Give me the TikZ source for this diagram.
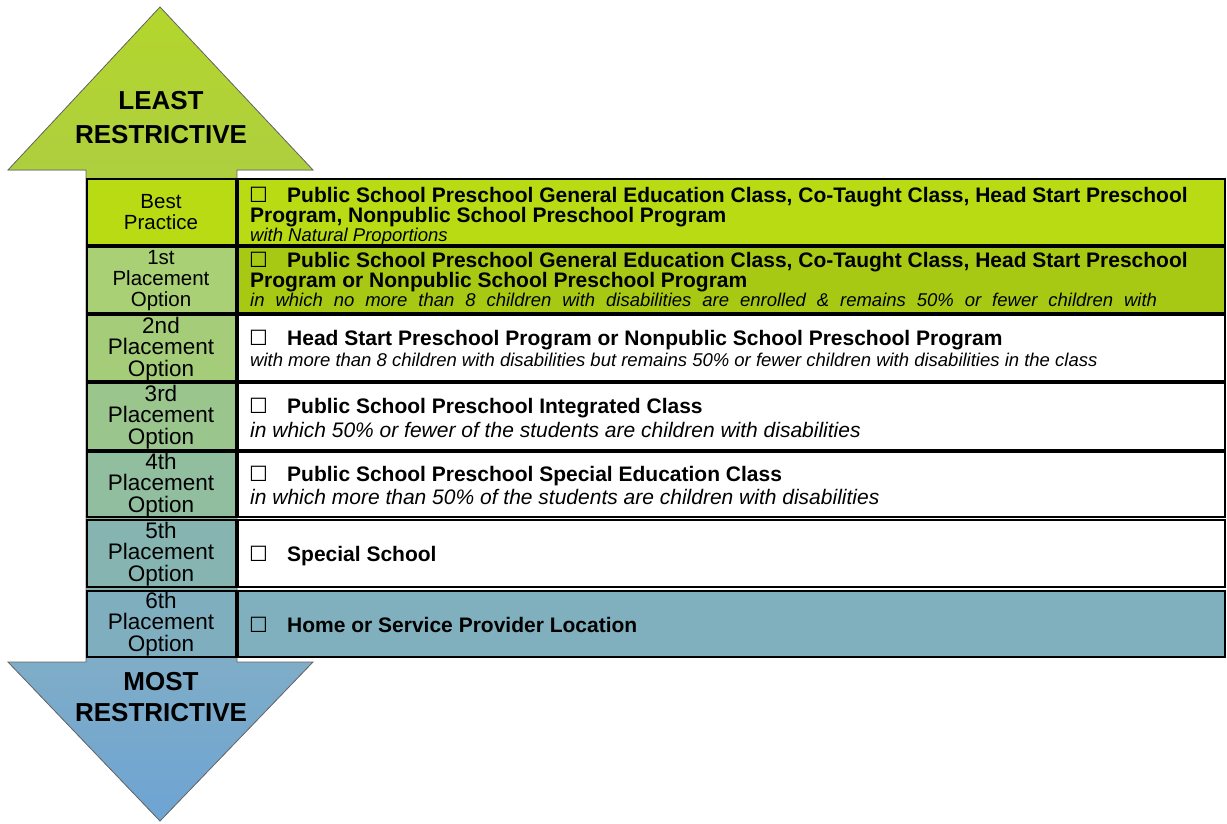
\documentclass[tikz,border=0pt]{standalone}
\usepackage{fontspec}
\setmainfont{Liberation Sans}
\newfontfamily\boxfont{DejaVu Sans}
\usepackage{tikz}
\definecolor{arrtop}{HTML}{B4D62C}
\definecolor{arrtopb}{HTML}{AECF3E}
\definecolor{arrbot}{HTML}{6EA4D3}
\definecolor{arrbott}{HTML}{7FADC8}
\definecolor{bestfill}{HTML}{B8DB13}
\definecolor{firstfill}{HTML}{A8C913}
\definecolor{sixfill}{HTML}{80B0BE}
\definecolor{lone}{HTML}{A9D075}
\definecolor{ltwo}{HTML}{A5CD79}
\definecolor{lthree}{HTML}{9AC58C}
\definecolor{lfour}{HTML}{90BE9E}
\definecolor{lfive}{HTML}{86B5B1}
\definecolor{lsix}{HTML}{7FAFBF}

\begin{document}
\begin{tikzpicture}[x=1pt,y=-1pt,
	cell/.style={draw=black, line width=2.2pt},
	big/.style={align=center, inner sep=0, font=\bfseries\fontsize{26}{34}\selectfont},
	rank/.style={align=center, inner sep=0, font=\fontsize{22.5}{21.5}\selectfont},
	tick/.style={anchor=base west, inner sep=0, font=\boxfont\fontsize{21}{21}\selectfont},
	head/.style={anchor=base west, inner sep=0, font=\bfseries\fontsize{21}{20}\selectfont},
	note/.style={anchor=base west, inner sep=0, font=\itshape\fontsize{18.5}{18}\selectfont}]
%		\draw [help lines] (0,0) grid (1227,823);
		\useasboundingbox (0,0) rectangle (1227,823);
		% the two way arrow
		\fill [top color=arrtop, bottom color=arrtopb] (160,7) -- (313,170) -- (8,170) -- cycle;
		\fill [top color=arrtopb, bottom color=arrbott] (86,169) rectangle (237,663);
		\fill [top color=arrbott, bottom color=arrbot] (8,662) -- (313,662) -- (160,821) -- cycle;
		\draw [draw=black!60, line width=0.8pt]
			(160,7) -- (313,170) -- (237,170) -- (237,662) -- (313,662) -- (160,821)
			-- (8,662) -- (86,662) -- (86,170) -- (8,170) -- cycle;
		\node [big] (least) at (161,118) {LEAST\\RESTRICTIVE};
		\node [big, font=\bfseries\fontsize{26}{31}\selectfont] (most) at (161,697) {MOST\\RESTRICTIVE};
		% left column
		\draw [cell, fill=bestfill] (87,179) rectangle (236,245);
		\draw [cell, fill=lone] (87,247) rectangle (236,313);
		\draw [cell, fill=ltwo] (87,315) rectangle (236,381);
		\draw [cell, fill=lthree] (87,383) rectangle (236,450);
		\draw [cell, fill=lfour] (87,452) rectangle (236,517);
		\draw [cell, fill=lfive] (87,520) rectangle (236,587);
		\draw [cell, fill=lsix] (87,591) rectangle (236,657);
		\node [rank, font=\fontsize{20.5}{21.5}\selectfont] (best) at (161,212) {Best\\Practice};
		\node [rank, font=\fontsize{20.5}{21}\selectfont] (first) at (161,281) {1st\\Placement\\Option};
		\node [rank] (second) at (161,349) {2nd\\Placement\\Option};
		\node [rank] (third) at (161,417) {3rd\\Placement\\Option};
		\node [rank] (fourth) at (161,485) {4th\\Placement\\Option};
		\node [rank] (fifth) at (161,554) {5th\\Placement\\Option};
		\node [rank] (sixth) at (161,624) {6th\\Placement\\Option};
		% right column
		\draw [cell, fill=bestfill] (238,179) rectangle (1225,245);
		\draw [cell, fill=firstfill] (238,247) rectangle (1225,313);
		\draw [cell, fill=white] (238,315) rectangle (1225,381);
		\draw [cell, fill=white] (238,383) rectangle (1225,450);
		\draw [cell, fill=white] (238,452) rectangle (1225,517);
		\draw [cell, fill=white] (238,520) rectangle (1225,587);
		\draw [cell, fill=sixfill] (238,591) rectangle (1225,657);
		% best practice
		\node [tick] (bestbox) at (249,202) {☐};
		\node [head] (besta) at (287,202) {Public School Preschool General Education Class, Co-Taught Class, Head Start Preschool};
		\node [head] (bestb) at (250,222) {Program, Nonpublic School Preschool Program};
		\node [note] (bestc) at (250,241) {with Natural Proportions};
		% 1st
		\node [tick] (onebox) at (249,267) {☐};
		\node [head] (onea) at (287,267) {Public School Preschool General Education Class, Co-Taught Class, Head Start Preschool};
		\node [head] (oneb) at (250,287) {Program or Nonpublic School Preschool Program};
		\node [note] (onec) at (250,306) {\makebox[907pt][s]{in which no more than 8 children with disabilities are enrolled \& remains 50\% or fewer children with}};
		% 2nd
		\node [tick] (twobox) at (249,345) {☐};
		\node [head] (twoa) at (287,345) {Head Start Preschool Program or Nonpublic School Preschool Program};
		\node [note] (twob) at (250,366) {with more than 8 children with disabilities but remains 50\% or fewer children with disabilities in the class};
		% 3rd
		\node [tick] (threebox) at (249,413) {☐};
		\node [head] (threea) at (287,413) {Public School Preschool Integrated Class};
		\node [note, font=\itshape\fontsize{21}{21}\selectfont] (threeb) at (250,437) {in which 50\% or fewer of the students are children with disabilities};
		% 4th
		\node [tick] (fourbox) at (249,481) {☐};
		\node [head] (foura) at (287,481) {Public School Preschool Special Education Class};
		\node [note, font=\itshape\fontsize{21}{21}\selectfont] (fourb) at (250,504) {in which more than 50\% of the students are children with disabilities};
		% 5th and 6th
		\node [tick] (fivebox) at (249,561) {☐};
		\node [head] (fivea) at (287,561) {Special School};
		\node [tick] (sixbox) at (249,632) {☐};
		\node [head] (sixa) at (287,632) {Home or Service Provider Location};
\end{tikzpicture}
\end{document}
